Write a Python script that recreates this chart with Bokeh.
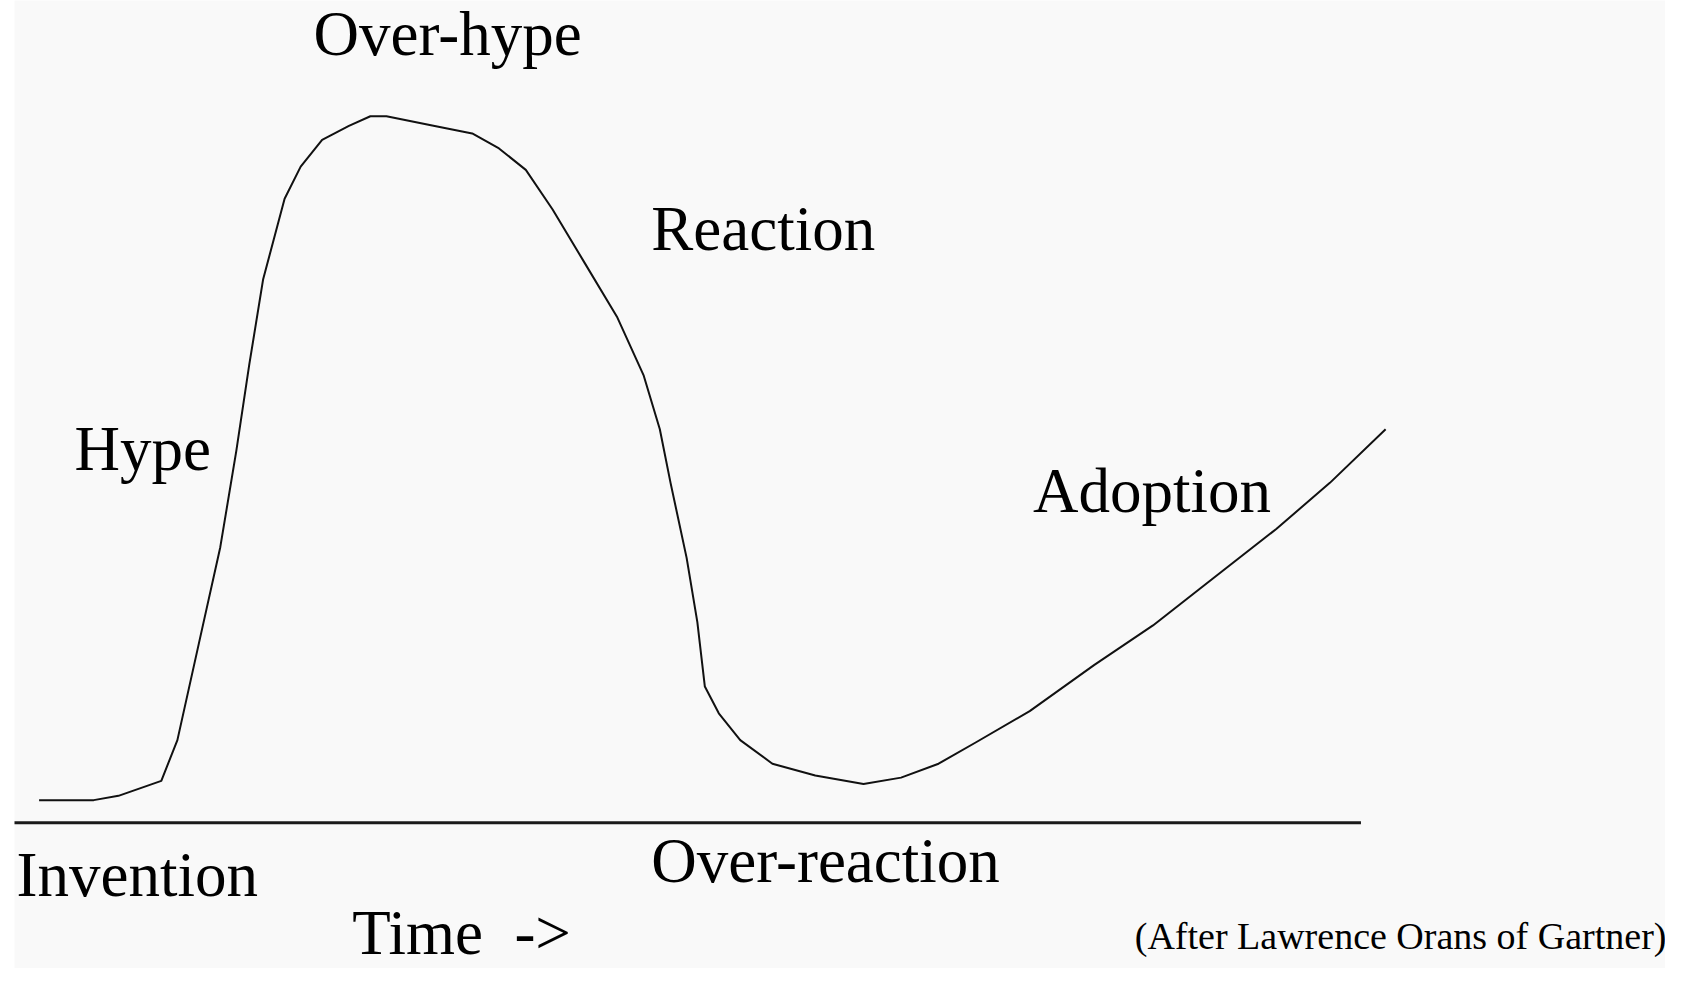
from bokeh.plotting import figure
from bokeh.models import Range1d, ColumnDataSource
from bokeh.core.properties import value
from bokeh.embed import file_html
from bokeh.resources import INLINE

# Hype cycle curve (time in arbitrary units, level above the time axis)
time = [36, 87, 110, 150, 165, 185, 205, 220, 232, 245, 265, 280, 300, 325, 345, 360,
        405, 440, 465, 490, 515, 545, 575, 600, 615, 625, 640, 650, 657, 670, 690,
        720, 760, 805, 840, 875, 910, 960, 1020, 1075, 1130, 1190, 1240, 1292]
level = [21, 21, 25, 39, 77, 167, 257, 347, 427, 507, 582, 612, 637, 650, 659, 659,
         650, 643, 629, 609, 572, 522, 472, 417, 367, 317, 247, 187, 127, 102, 77,
         55, 44, 36, 42, 55, 75, 104, 147, 184, 227, 274, 317, 367]

# Time axis
axis_t = [12, 1269]
axis_level = [0, 0]

# Phase labels
labels = ["Over-hype", "Reaction", "Hype", "Adoption", "Invention", "Over-reaction",
          "Time\u00a0\u00a0->"]
label_t = [292, 607, 69, 963, 15, 607, 328]
label_level = [736, 554, 349, 309, -49, -36, -103]

note = ["(After Lawrence Orans of Gartner)"]
note_t = [1058]
note_level = [-106]

BG = "#f9f9f9"
p = figure(width=1665, height=968, output_backend="svg", toolbar_location=None,
           x_range=Range1d(13.06, 1553.06), y_range=Range1d(-136.07, 767),
           min_border=0, min_border_left=14,
           background_fill_color=BG, border_fill_color="#ffffff")
p.axis.visible = False
p.grid.visible = False
p.outline_line_color = None

p.line(axis_t, axis_level, line_color="#1a1a1a", line_width=3)
p.line(time, level, line_color="#111111", line_width=2, line_join="round")

src = ColumnDataSource(dict(x=label_t, y=label_level, t=labels))
p.text(x="x", y="y", text="t", source=src, text_font=value("Liberation Serif"),
       text_font_size="63px", text_color="#000000", text_baseline="alphabetic",
       text_align="left")

nsrc = ColumnDataSource(dict(x=note_t, y=note_level, t=note))
p.text(x="x", y="y", text="t", source=nsrc, text_font=value("Liberation Serif"),
       text_font_size="38px", text_color="#000000", text_baseline="alphabetic",
       text_align="left")

open("out.html", "w").write(file_html(p, INLINE))
